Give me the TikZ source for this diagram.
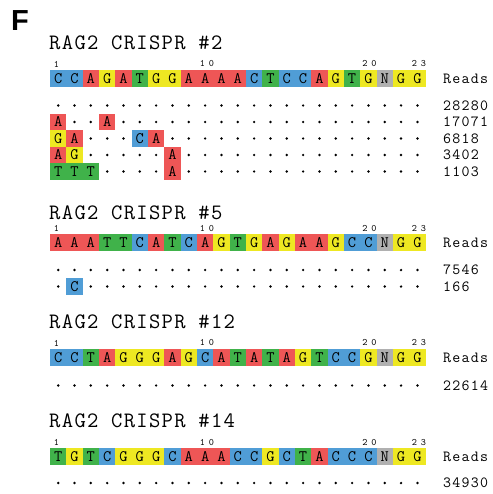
\documentclass[tikz,border=0pt]{standalone}
\usepackage{fontspec}
\newfontfamily\seqfont{Latin Modern Mono}
\newfontfamily\titlefont[LetterSpace=6]{Latin Modern Mono}
\newfontfamily\readsfont[LetterSpace=8]{Latin Modern Mono}
\newfontfamily\posfont[LetterSpace=40]{Latin Modern Mono}
\newfontfamily\panelfont{Liberation Sans}
\definecolor{baseA}{RGB}{238,86,86}
\definecolor{baseC}{RGB}{80,157,214}
\definecolor{baseG}{RGB}{238,232,34}
\definecolor{baseT}{RGB}{64,178,74}
\definecolor{baseN}{RGB}{176,176,176}
% one row of 23 positions: a dot for '.', a coloured box otherwise
\newcommand{\seqrow}[3]{%
  \foreach \b [count=\i] in {#3} {
    \if\b.
      \fill (41.83+16.33*\i, #2) circle[radius=1.35pt];
    \else
      \node[cell, fill=base\b] (#1-\i) at (41.83+16.33*\i, #2) {\b};
    \fi
  }}
% position numbers over the sequence
\newcommand{\posnums}[2]{%
  \node[posnum] (#1-p1) at (56.5, #2) {1};
  \node[posnum] (#1-p10) at (207, #2) {10};
  \node[posnum] (#1-p20) at (369.5, #2) {20};
  \node[posnum] (#1-p23) at (419, #2) {23};}

\begin{document}
\begin{tikzpicture}[x=1pt, y=-1pt]

    \tikzset{cell/.style={minimum width=16.4pt, minimum height=16.7pt, inner sep=0pt,
                          font=\seqfont\fontsize{16}{16}\selectfont},
             posnum/.style={inner sep=0pt, font=\posfont\fontsize{9.8}{9.8}\selectfont},
             title/.style={anchor=west, inner sep=0pt, font=\titlefont\fontsize{22}{22}\selectfont},
             reads/.style={anchor=west, inner sep=0pt, font=\readsfont\fontsize{15.5}{15.5}\selectfont}}

    \useasboundingbox (0,0) rectangle (492,494);

    \node[anchor=north west, inner sep=0pt, font=\panelfont\bfseries\fontsize{29}{29}\selectfont] (panel) at (11,10.5) {F};

    % guide #2
    \node[title] (t2) at (49,43) {RAG2 CRISPR \#2};
    \posnums{s2}{64}
    \seqrow{s2}{78.5}{C,C,A,G,A,T,G,G,A,A,A,A,C,T,C,C,A,G,T,G,N,G,G}
    \seqrow{m2a}{105.5}{.,.,.,.,.,.,.,.,.,.,.,.,.,.,.,.,.,.,.,.,.,.,.}
    \seqrow{m2b}{122}{A,.,.,A,.,.,.,.,.,.,.,.,.,.,.,.,.,.,.,.,.,.,.}
    \seqrow{m2c}{138.5}{G,A,.,.,.,C,A,.,.,.,.,.,.,.,.,.,.,.,.,.,.,.,.}
    \seqrow{m2d}{155}{A,G,.,.,.,.,.,A,.,.,.,.,.,.,.,.,.,.,.,.,.,.,.}
    \seqrow{m2e}{171.5}{T,T,T,.,.,.,.,A,.,.,.,.,.,.,.,.,.,.,.,.,.,.,.}
    \node[reads] (r2) at (443,78.5) {Reads};
    \node[reads] (c2a) at (443,105.5) {28280};
    \node[reads] (c2b) at (443,122) {17071};
    \node[reads] (c2c) at (443,138.5) {6818};
    \node[reads] (c2d) at (443,155) {3402};
    \node[reads] (c2e) at (443,171.5) {1103};

    % guide #5
    \node[title] (t5) at (49,213) {RAG2 CRISPR \#5};
    \posnums{s5}{228.5}
    \seqrow{s5}{242.5}{A,A,A,T,T,C,A,T,C,A,G,T,G,A,G,A,A,G,C,C,N,G,G}
    \seqrow{m5a}{270}{.,.,.,.,.,.,.,.,.,.,.,.,.,.,.,.,.,.,.,.,.,.,.}
    \seqrow{m5b}{286.5}{.,C,.,.,.,.,.,.,.,.,.,.,.,.,.,.,.,.,.,.,.,.,.}
    \node[reads] (r5) at (443,242.5) {Reads};
    \node[reads] (c5a) at (443,270) {7546};
    \node[reads] (c5b) at (443,286.5) {166};

    % guide #12
    \node[title] (t12) at (49,322) {RAG2 CRISPR \#12};
    \posnums{s12}{343}
    \seqrow{s12}{357.5}{C,C,T,A,G,G,G,A,G,C,A,T,A,T,A,G,T,C,C,G,N,G,G}
    \seqrow{m12a}{385.5}{.,.,.,.,.,.,.,.,.,.,.,.,.,.,.,.,.,.,.,.,.,.,.}
    \node[reads] (r12) at (443,357.5) {Reads};
    \node[reads] (c12a) at (443,385.5) {22614};

    % guide #14
    \node[title] (t14) at (49,420.5) {RAG2 CRISPR \#14};
    \posnums{s14}{442.5}
    \seqrow{s14}{456.5}{T,G,T,C,G,G,G,C,A,A,A,C,C,G,C,T,A,C,C,C,N,G,G}
    \seqrow{m14a}{483}{.,.,.,.,.,.,.,.,.,.,.,.,.,.,.,.,.,.,.,.,.,.,.}
    \node[reads] (r14) at (443,456.5) {Reads};
    \node[reads] (c14a) at (443,483) {34930};

\end{tikzpicture}
\end{document}
